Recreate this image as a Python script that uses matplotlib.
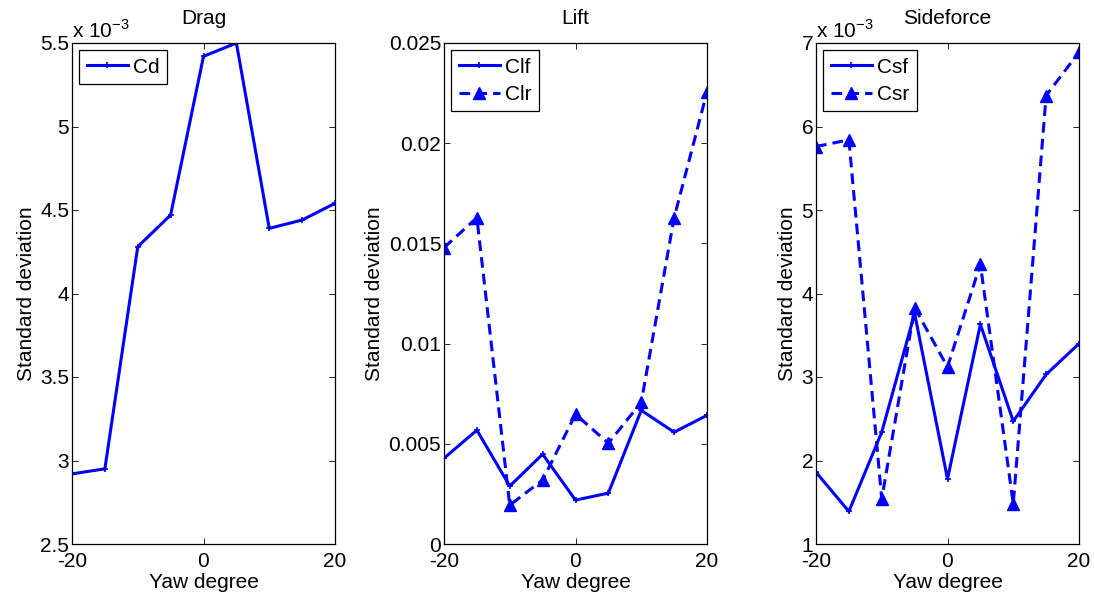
import numpy as np
import matplotlib.pyplot as plt

plt.rcParams['font.family'] = ['Liberation Sans', 'DejaVu Sans']

yaw = [-20, -15, -10, -5, 0, 5, 10, 15, 20]

# standard deviation of the force coefficients
cd = [2.92e-3, 2.95e-3, 4.28e-3, 4.47e-3, 5.42e-3, 5.50e-3, 4.39e-3, 4.44e-3, 4.54e-3]
clf = [0.00428, 0.00568, 0.00289, 0.00448, 0.00219, 0.00254, 0.00667, 0.00558, 0.00642]
clr = [0.01479, 0.01628, 0.00194, 0.00319, 0.00647, 0.00503, 0.00707, 0.01628, 0.02256]
csf = [1.86e-3, 1.39e-3, 2.34e-3, 3.76e-3, 1.78e-3, 3.63e-3, 2.47e-3, 3.03e-3, 3.40e-3]
csr = [5.76e-3, 5.84e-3, 1.54e-3, 3.83e-3, 3.12e-3, 4.35e-3, 1.48e-3, 6.37e-3, 6.89e-3]

fs = 15
blue = '#0000ff'

fig = plt.figure(figsize=(10.94, 6.01), dpi=100)
W, H = 1094.0, 601.0
lefts = [72, 444, 816]
axes = []
for l in lefts:
    ax = fig.add_axes([l / W, (H - 544) / H, 263 / W, (544 - 43) / H])
    axes.append(ax)


def style(ax, title, ylim, yticks, ylabels, scale=None):
    ax.set_xlim(-20, 20)
    ax.set_ylim(*ylim)
    ax.set_xticks([-20, 0, 20])
    ax.set_xticklabels(['-20', '0', '20'], fontsize=fs)
    ax.set_yticks(yticks)
    ax.set_yticklabels(ylabels, fontsize=fs)
    ax.tick_params(direction='in', top=True, right=True, length=4, width=0.6, pad=2)
    ax.tick_params(axis='x', pad=6)
    for sp in ax.spines.values():
        sp.set_linewidth(0.9)
    ax.set_title(title, fontsize=fs, pad=14)
    ax.set_xlabel('Yaw degree', fontsize=fs, labelpad=1)
    ax.set_ylabel('Standard deviation', fontsize=fs, labelpad=3)
    if scale:
        ax.text(0.0, 1.003, r'x 10$^{\mathregular{-3}}$', transform=ax.transAxes,
                fontsize=fs, ha='left', va='bottom')
    leg = ax.legend(loc='upper left', fontsize=fs, fancybox=False, edgecolor='k',
                    handlelength=2.0, borderaxespad=0.35, borderpad=0.35,
                    labelspacing=0.4, handletextpad=0.25, framealpha=1)
    leg.get_frame().set_linewidth(0.9)


lw = 2.2
ax = axes[0]
ax.plot(yaw, np.array(cd) * 1e3, '-', color=blue, lw=lw, marker='+', ms=4, mew=1.2, label='Cd')
style(ax, 'Drag', (2.5, 5.5), np.arange(2.5, 5.51, 0.5),
      ['2.5', '3', '3.5', '4', '4.5', '5', '5.5'], scale=True)

ax = axes[1]
ax.plot(yaw, clf, '-', color=blue, lw=lw, marker='+', ms=4, mew=1.2, label='Clf')
ax.plot(yaw, clr, '--', color=blue, lw=lw, marker='^', ms=8, label='Clr', dashes=(3.5, 2))
style(ax, 'Lift', (0, 0.025), np.arange(0, 0.0251, 0.005),
      ['0', '0.005', '0.01', '0.015', '0.02', '0.025'])

ax = axes[2]
ax.plot(yaw, np.array(csf) * 1e3, '-', color=blue, lw=lw, marker='+', ms=4, mew=1.2, label='Csf')
ax.plot(yaw, np.array(csr) * 1e3, '--', color=blue, lw=lw, marker='^', ms=8, label='Csr', dashes=(3.5, 2))
style(ax, 'Sideforce', (1, 7), np.arange(1, 7.1, 1),
      ['1', '2', '3', '4', '5', '6', '7'], scale=True)

fig.savefig('out.png', dpi=100)
